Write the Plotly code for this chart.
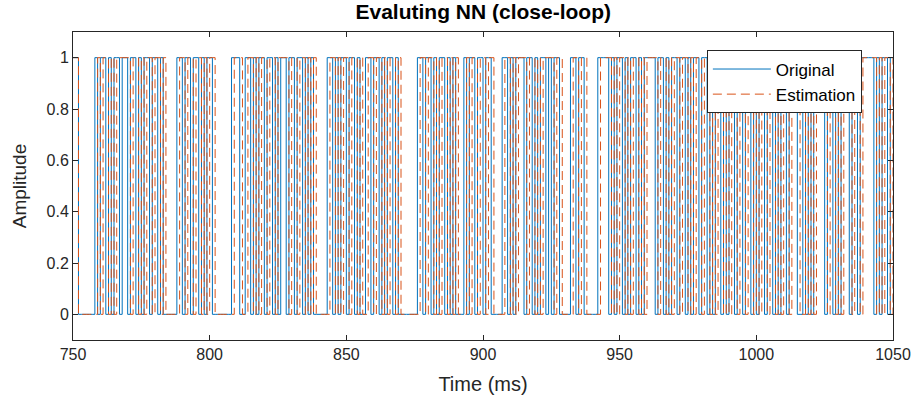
import numpy as np
import plotly.graph_objects as go

# Time axis (ms), one sample per millisecond
t_start, t_end = 750, 1050
time_ms = list(range(t_start, t_end + 1))

# Binary reference signal, rows of 10 samples
original_rows = [
    "1100000010", "1101011011", "0110101101", "1010000011", "0110110101",
    "1000000011", "1001101011", "0110101101", "1011010100", "0001101011",
    "0110100110", "1101011010", "0000001101", "1010110101", "0001011011",
    "0110000110", "1011101101", "0110101100", "0011011000", "0011110101",
    "1010110101", "1110110101", "1011010110", "1101011010", "1101101101",
    "0110110101", "1011100101", "0111101101", "0111011011", "1110101101",
    "1",
]

# Network output in closed loop, rows of 10 samples
estimation_rows = [
    "1100000001", "0110101111", "1011010110", "1101000001", "1011011010",
    "1100000001", "1100110101", "1011011110", "1101101010", "0000110101",
    "1011010011", "0110101101", "0000000110", "1101011010", "1000101101",
    "1011000011", "0101110110", "1011110110", "0001101100", "0001111010",
    "1101011010", "1111011010", "1101101011", "0110101101", "0110110110",
    "1011011010", "1101110010", "1011110110", "1011101101", "1111010110",
    "1",
]

original = [int(c) for c in "".join(original_rows)]
estimation = [int(c) for c in "".join(estimation_rows)]

x_ticks = [750, 800, 850, 900, 950, 1000, 1050]
y_ticks = [0, 0.2, 0.4, 0.6, 0.8, 1]
y_tick_labels = ["0", "0.2", "0.4", "0.6", "0.8", "1"]

font_family = "Liberation Sans, Arial, sans-serif"
ink = "#262626"

fig = go.Figure()
fig.add_trace(go.Scatter(
    x=time_ms, y=original, name="Original", mode="lines",
    line=dict(color="#0072BD", width=1, shape="hv"),
))
fig.add_trace(go.Scatter(
    x=time_ms, y=estimation, name="Estimation", mode="lines",
    line=dict(color="#D95319", width=1, shape="hv", dash="9px,5px"),
))

axis_common = dict(
    showline=True, linecolor=ink, linewidth=1, mirror="ticks",
    ticks="inside", ticklen=5, tickcolor=ink, showgrid=False, zeroline=False,
    tickfont=dict(family=font_family, size=16, color=ink), automargin=False,
)

fig.update_layout(
    width=917, height=400,
    margin=dict(l=73, r=24, t=32, b=60),
    paper_bgcolor="white", plot_bgcolor="white",
    title=dict(
        text="<b>Evaluting NN (close-loop)</b>", x=0.527, xanchor="center",
        y=0.97, yanchor="middle",
        font=dict(family=font_family, size=21, color="black"),
    ),
    xaxis=dict(
        range=[t_start, t_end], tickvals=x_ticks,
        title=dict(text="Time (ms)", font=dict(family=font_family, size=20, color=ink), standoff=14),
        **axis_common,
    ),
    yaxis=dict(
        range=[-0.1, 1.1], tickvals=y_ticks, ticktext=y_tick_labels,
        title=dict(text="Amplitude", font=dict(family=font_family, size=19, color=ink), standoff=14),
        **axis_common,
    ),
    legend=dict(
        x=0.773, y=0.94, xanchor="left", yanchor="top",
        bgcolor="white", bordercolor=ink, borderwidth=1,
        font=dict(family=font_family, size=17, color="black"),
        itemwidth=58, tracegroupgap=0,
    ),
    showlegend=True,
)

fig.write_html("out.html")
